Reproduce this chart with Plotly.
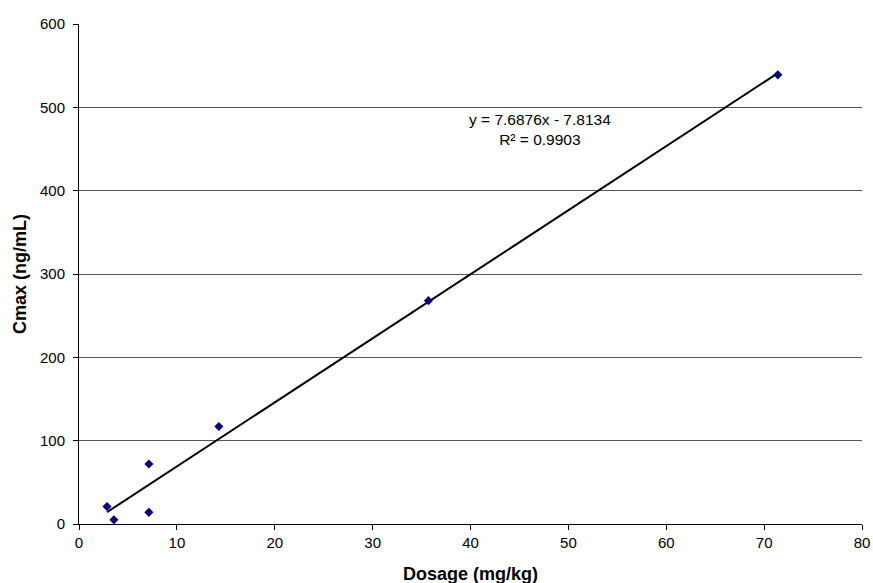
import numpy as np
import plotly.graph_objects as go

dosage = [2.86, 3.57, 7.14, 7.14, 14.29, 35.7, 71.4]
cmax = [21, 5, 72, 14, 117, 268, 539]
x_ticks = [0, 10, 20, 30, 40, 50, 60, 70, 80]
y_ticks = [0, 100, 200, 300, 400, 500, 600]
slope, intercept = 7.6876, -7.8134
eq_text = "y = 7.6876x - 7.8134<br>R² = 0.9903"

xl = np.array([min(dosage), max(dosage)])
yl = slope * xl + intercept

FONT = "Liberation Sans, Arial, sans-serif"

fig = go.Figure()
fig.add_trace(go.Scatter(x=xl, y=yl, mode="lines",
                         line=dict(color="black", width=2), showlegend=False))
fig.add_trace(go.Scatter(x=dosage, y=cmax, mode="markers",
                         marker=dict(symbol="diamond", size=7, color="#000080"),
                         showlegend=False))
fig.add_annotation(x=47.1, y=473, xref="x", yref="y", text=eq_text, showarrow=False,
                   font=dict(family=FONT, size=15.5, color="black"),
                   align="center")
fig.add_annotation(x=0.5, y=0, xref="paper", yref="paper", yanchor="middle",
                   yshift=-50, text="<b>Dosage (mg/kg)</b>", showarrow=False,
                   font=dict(family=FONT, size=18, color="black"))
fig.add_annotation(x=0, y=0.5, xref="paper", yref="paper", xanchor="center",
                   xshift=-59, textangle=-90, text="<b>Cmax (ng/mL)</b>", showarrow=False,
                   font=dict(family=FONT, size=18, color="black"))

fig.update_layout(
    width=873, height=583,
    margin=dict(l=79, r=11, t=24, b=59, autoexpand=False),
    plot_bgcolor="white", paper_bgcolor="white",
    font=dict(family=FONT, size=15, color="black"),
    xaxis=dict(range=[0, 80], tickvals=x_ticks, showgrid=False, zeroline=False,
               showline=True, linecolor="black", linewidth=1,
               ticks="outside", ticklen=5, tickcolor="black"),
    yaxis=dict(range=[0, 600], tickvals=y_ticks, showgrid=True, gridcolor="#555555",
               gridwidth=1, zeroline=False,
               showline=True, linecolor="black", linewidth=1,
               ticks="outside", ticklen=5, tickcolor="black", ticklabelstandoff=5),
)
fig.write_html("out.html", config={"displayModeBar": False},
               post_script="document.body.style.margin='0';document.body.style.overflow='hidden';")
